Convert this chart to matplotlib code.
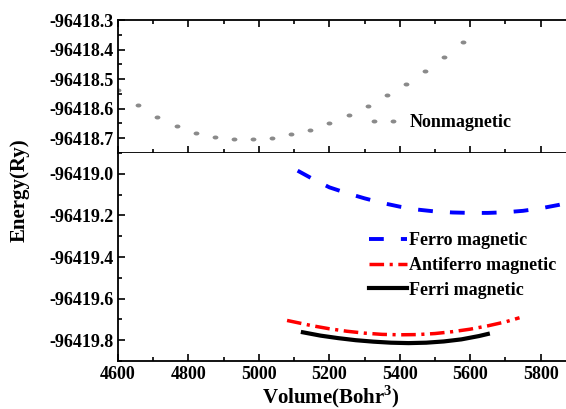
import matplotlib
matplotlib.use("Agg")
import matplotlib.pyplot as plt
from matplotlib.ticker import MultipleLocator, FormatStrFormatter
from matplotlib.path import Path
from matplotlib.transforms import Affine2D

plt.rcParams['font.family'] = ['Liberation Serif', 'DejaVu Serif']
plt.rcParams['font.weight'] = 'bold'
plt.rcParams['axes.unicode_minus'] = False
plt.rcParams['mathtext.fontset'] = 'custom'
plt.rcParams['mathtext.rm'] = 'Liberation Serif:bold'
plt.rcParams['mathtext.bf'] = 'Liberation Serif:bold'

# Data
vol_non = [4600, 4656, 4712, 4767, 4821, 4876, 4928, 4983, 5037, 5092, 5146,
           5200, 5255, 5309, 5364, 5418, 5471, 5525, 5580]
e_non = [-96418.537, -96418.588, -96418.628, -96418.659, -96418.682, -96418.696,
         -96418.704, -96418.704, -96418.699, -96418.687, -96418.671, -96418.648,
         -96418.622, -96418.592, -96418.555, -96418.515, -96418.471, -96418.424,
         -96418.374]

vol_ferro = [5110, 5150, 5200, 5250, 5300, 5350, 5400, 5450, 5500, 5550, 5600,
             5650, 5700, 5750, 5800, 5850, 5880]
e_ferro = [-96418.985, -96419.022, -96419.065, -96419.093, -96419.118, -96419.140,
           -96419.158, -96419.172, -96419.181, -96419.186, -96419.188, -96419.188,
           -96419.185, -96419.178, -96419.166, -96419.150, -96419.138]

vol_anti = [5080, 5150, 5200, 5250, 5300, 5350, 5400, 5450, 5500, 5550, 5600,
            5650, 5700, 5740]
e_anti = [-96419.705, -96419.730, -96419.745, -96419.757, -96419.766, -96419.772,
          -96419.774, -96419.773, -96419.768, -96419.759, -96419.747, -96419.731,
          -96419.712, -96419.692]

vol_ferri = [5125, 5175, 5225, 5275, 5325, 5375, 5425, 5475, 5525, 5575, 5625, 5650]
e_ferri = [-96419.762, -96419.778, -96419.790, -96419.800, -96419.807, -96419.812,
           -96419.814, -96419.812, -96419.806, -96419.796, -96419.780, -96419.770]

labels = ["Nonmagnetic", "Ferro magnetic", "Antiferro magnetic", "Ferri magnetic"]
top_yticks = [-96418.7, -96418.6, -96418.5, -96418.4, -96418.3]
bot_yticks = [-96419.8, -96419.6, -96419.4, -96419.2, -96419.0]

W, H = 566, 409
fig = plt.figure(figsize=(W / 100, H / 100), dpi=100)

left = 118 / W
right = 1.0
y_top = 1 - 20 / H
y_mid = 1 - 153 / H
y_bot = 1 - 361 / H

ax1 = fig.add_axes([left, y_mid, right - left, y_top - y_mid])
ax2 = fig.add_axes([left, y_bot, right - left, y_mid - y_bot])

xlim = (4600, 5872)

# elliptical dot marker
circ = Path.unit_circle()
ellipse = Affine2D().scale(1.0, 0.68).transform_path(circ)

# Top panel: nonmagnetic (dots at data points)
ax1.plot(vol_non, e_non, linestyle='none', marker=ellipse, markersize=4.2,
         color='#8a8a8a', markeredgewidth=0, label=labels[0])
ax1.set_xlim(*xlim)
ax1.set_ylim(-96418.75, -96418.3)

# Bottom panel
ax2.plot(vol_ferro, e_ferro, color='#0000ff', lw=2.8, linestyle=(0, (3.8, 4.4)),
         label=labels[1])
ax2.plot(vol_anti, e_anti, color='#ff0000', lw=2.5,
         linestyle=(0, (4.2, 1.6, 0.9, 1.6)), label=labels[2])
ax2.plot(vol_ferri, e_ferri, color='black', lw=3.0, linestyle='-',
         solid_joinstyle='round', label=labels[3])
ax2.set_xlim(*xlim)
ax2.set_ylim(-96419.9, -96418.9)

for ax in (ax1, ax2):
    ax.spines['right'].set_visible(False)
    for s in ('left', 'top', 'bottom'):
        ax.spines[s].set_linewidth(1.3)
    ax.xaxis.set_major_locator(MultipleLocator(200))
    ax.xaxis.set_minor_locator(MultipleLocator(100))
    ax.tick_params(which='both', direction='in', width=1.2, labelsize=13)
    ax.tick_params(which='major', length=5)
    ax.tick_params(which='minor', length=3)
    ax.tick_params(axis='y', right=False)

ax2.spines['top'].set_visible(False)
ax1.tick_params(axis='x', which='both', top=True, bottom=True, labelbottom=False)
ax2.tick_params(axis='x', which='both', top=False, bottom=True, pad=3.5)

ax1.set_yticks(top_yticks)
ax1.yaxis.set_minor_locator(MultipleLocator(0.05))
ax1.yaxis.set_major_formatter(FormatStrFormatter('%.1f'))

ax2.set_yticks(bot_yticks)
ax2.yaxis.set_minor_locator(MultipleLocator(0.1))
ax2.yaxis.set_major_formatter(FormatStrFormatter('%.1f'))

for ax in (ax1, ax2):
    for t in ax.get_xticklabels() + ax.get_yticklabels():
        t.set_fontweight('bold')

# Legends
leg1 = ax1.legend(loc='center left', bbox_to_anchor=(368.6 / W, 1 - 122.7 / H),
                  bbox_transform=fig.transFigure, frameon=False, fontsize=13,
                  numpoints=2, handlelength=1.65, handletextpad=0.64,
                  borderpad=0, borderaxespad=0)
leg2 = ax2.legend(loc='center left', bbox_to_anchor=(369 / W, 1 - 265.5 / H),
                  bbox_transform=fig.transFigure, frameon=False, fontsize=13,
                  handlelength=2.1, handletextpad=0.1, labelspacing=0.42,
                  borderpad=0, borderaxespad=0)
for leg in (leg1, leg2):
    for t in leg.get_texts():
        t.set_fontweight('bold')

fig.text(331 / W, 1 - 403 / H, r'Volume(Bohr$^3$)', ha='center', va='baseline',
         fontsize=15, fontweight='bold')
fig.text(20 / W, 1 - 190 / H, 'Energy(Ry)', ha='center', va='center',
         rotation=90, fontsize=15, fontweight='bold')

fig.savefig('out.png', dpi=100)
